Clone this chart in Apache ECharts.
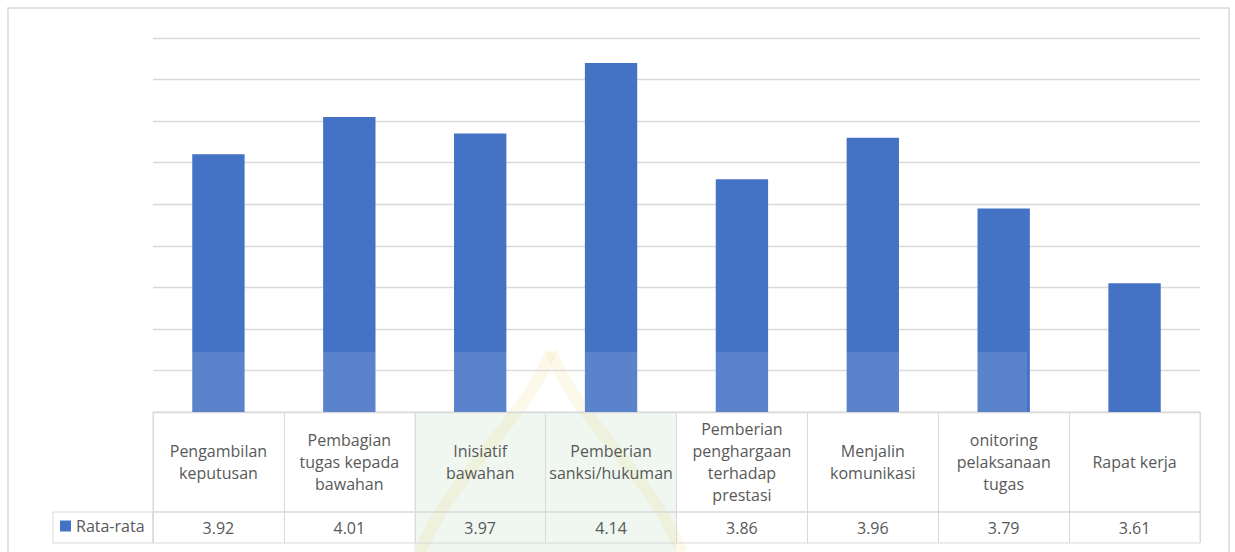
<!DOCTYPE html>
<html>
<head>
<meta charset="utf-8">
<script src="https://cdn.jsdelivr.net/npm/echarts@6/dist/echarts.min.js"></script>
<style>
  html, body { margin: 0; padding: 0; background: #fff; }
  #chart { width: 1235px; height: 552px; }
</style>
</head>
<body>
<div id="chart"></div>
<script>
// kategori (baris judul tabel data)
const categories = [
  "Pengambilan\nkeputusan",
  "Pembagian\ntugas kepada\nbawahan",
  "Inisiatif\nbawahan",
  "Pemberian\nsanksi/hukuman",
  "Pemberian\npenghargaan\nterhadap\nprestasi",
  "Menjalin\nkomunikasi",
  "onitoring\npelaksanaan\ntugas",
  "Rapat kerja"
];
const seriesName = "Rata-rata";
const values = [3.92, 4.01, 3.97, 4.14, 3.86, 3.96, 3.79, 3.61];
const yMin = 3.3;
const yMax = 4.2;
const yStep = 0.1;

const chart = echarts.init(document.getElementById("chart"), null, { renderer: "svg" });
const lineColor = "#d9d9d9";
const textColor = "#595959";
const font = "'Open Sans', 'Noto Sans', sans-serif";

let option = {
  animation: false,
  // tiga grid: plot, baris judul, baris nilai
  grid: [
    { left: 153, right: 35, top: 38, bottom: 140 },
    { left: 153, right: 35, top: 412, height: 100, show: true, borderColor: lineColor, borderWidth: 1 },
    { left: 153, right: 35, top: 512, height: 31, show: true, borderColor: lineColor, borderWidth: 1 }
  ],
  legend: {
    left: 60,
    top: 518,
    padding: 0,
    itemWidth: 11,
    itemHeight: 11,
    icon: "rect",
    textStyle: { color: textColor, fontSize: 16, fontFamily: font },
    data: [seriesName]
  },
  xAxis: [
    {
      gridIndex: 0,
      type: "category",
      data: categories,
      axisLabel: { show: false },
      axisTick: { show: false },
      axisLine: { show: true, lineStyle: { color: lineColor, width: 1 } }
    },
    {
      gridIndex: 1,
      type: "category",
      data: categories,
      position: "top",
      axisTick: { show: false },
      axisLine: { show: false },
      splitLine: { show: true, interval: 0, lineStyle: { color: lineColor, width: 1 } },
      axisLabel: {
        inside: true,
        interval: 0,
        margin: 50,
        verticalAlign: "middle",
        align: "center",
        color: textColor,
        fontSize: 16,
        lineHeight: 22,
        fontFamily: font
      }
    },
    {
      gridIndex: 2,
      type: "category",
      data: categories,
      axisTick: { show: false },
      axisLine: { show: false },
      splitLine: { show: true, interval: 0, lineStyle: { color: lineColor, width: 1 } },
      axisLabel: {
        inside: true,
        interval: 0,
        margin: 15,
        verticalAlign: "middle",
        color: textColor,
        fontSize: 16,
        fontFamily: font,
        formatter: (v, i) => values[i].toFixed(2)
      }
    }
  ],
  yAxis: [
    {
      gridIndex: 0,
      type: "value",
      min: yMin,
      max: yMax,
      interval: yStep,
      axisLabel: { show: false },
      axisLine: { show: false },
      axisTick: { show: false },
      splitLine: { lineStyle: { color: lineColor, width: 1.3 } }
    },
    { gridIndex: 1, type: "value", show: false },
    { gridIndex: 2, type: "value", show: false }
  ],
  series: [
    {
      name: seriesName,
      type: "bar",
      xAxisIndex: 0,
      yAxisIndex: 0,
      data: values,
      barWidth: "40%",
      itemStyle: { color: "#4472c4" }
    }
  ],
  graphic: [
    // bingkai area chart
    {
      type: "rect",
      silent: true,
      shape: { x: 8, y: 8, width: 1221, height: 560 },
      style: { fill: "none", stroke: lineColor, lineWidth: 1.5 }
    },
    // sel kunci legenda
    {
      type: "rect",
      silent: true,
      shape: { x: 53, y: 512, width: 100, height: 31 },
      style: { fill: "none", stroke: lineColor, lineWidth: 1 }
    },
    // watermark samar (logo) di belakang tabel
    {
      type: "rect",
      silent: true,
      z: -10,
      shape: { x: 414, y: 412, width: 262, height: 140 },
      style: { fill: "rgba(190,225,195,0.25)" }
    },
    {
      type: "bezierCurve",
      silent: true,
      z: -9,
      shape: { x1: 420, y1: 552, cpx1: 455, cpy1: 470, cpx2: 525, cpy2: 420, x2: 551, y2: 352 },
      style: { fill: "none", stroke: "rgba(235,215,120,0.16)", lineWidth: 12 }
    },
    {
      type: "bezierCurve",
      silent: true,
      z: -9,
      shape: { x1: 551, y1: 352, cpx1: 577, cpy1: 420, cpx2: 647, cpy2: 470, x2: 682, y2: 552 },
      style: { fill: "none", stroke: "rgba(235,215,120,0.16)", lineWidth: 12 }
    },
    // lapisan terang di bagian bawah batang
    {
      type: "rect",
      silent: true,
      z: 100,
      shape: { x: 150, y: 352, width: 877, height: 60 },
      style: { fill: "rgba(255,255,255,0.12)" }
    }
  ]
};
chart.setOption(option);
window.addEventListener("resize", () => {
  chart.resize();
});
</script>
</body>
</html>
